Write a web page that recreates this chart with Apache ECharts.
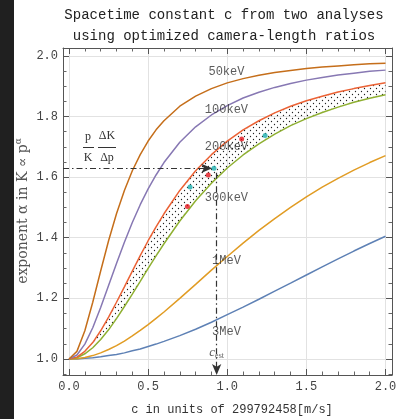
<!DOCTYPE html>
<html><head><meta charset="utf-8">
<script src="https://cdn.jsdelivr.net/npm/echarts@6/dist/echarts.min.js"></script>
<style>html,body{margin:0;padding:0;background:#fff}#c{width:404px;height:419px}</style>
</head><body><div id="c"></div><script>
// sampled c values (units of 299792458 m/s)
const xs = [0,0.05,0.1,0.15,0.2,0.25,0.3,0.35,0.4,0.45,0.5,0.55,0.6,0.7,0.8,0.9,1.0,1.1,1.2,1.3,1.4,1.5,1.6,1.7,1.8,1.9,2.0];
// exponent alpha
const a50   = [1.000,1.025,1.093,1.187,1.290,1.390,1.479,1.556,1.621,1.674,1.719,1.756,1.786,1.834,1.867,1.892,1.911,1.925,1.936,1.945,1.952,1.958,1.963,1.967,1.971,1.974,1.976];
const a100  = [1.000,1.013,1.049,1.103,1.170,1.242,1.315,1.385,1.450,1.509,1.561,1.607,1.648,1.715,1.766,1.805,1.836,1.861,1.880,1.896,1.909,1.920,1.929,1.937,1.943,1.949,1.953];
const a200  = [1.000,1.006,1.025,1.054,1.093,1.138,1.187,1.238,1.290,1.341,1.390,1.436,1.479,1.556,1.621,1.674,1.719,1.756,1.786,1.812,1.834,1.852,1.867,1.881,1.892,1.902,1.911];
const a300  = [1.000,1.004,1.017,1.037,1.064,1.096,1.133,1.173,1.214,1.256,1.299,1.340,1.380,1.455,1.522,1.580,1.630,1.673,1.710,1.742,1.770,1.793,1.813,1.831,1.847,1.860,1.872];
const a1000 = [1.000,1.001,1.005,1.011,1.020,1.031,1.044,1.059,1.076,1.094,1.113,1.134,1.155,1.200,1.246,1.293,1.338,1.382,1.424,1.463,1.500,1.535,1.567,1.596,1.623,1.648,1.671];
const a3000 = [1.000,1.000,1.002,1.004,1.007,1.011,1.015,1.020,1.027,1.033,1.041,1.049,1.058,1.077,1.098,1.121,1.146,1.171,1.197,1.224,1.250,1.277,1.304,1.330,1.356,1.381,1.405];
const curveNames = ['50keV','100keV','200keV','300keV','1MeV','3MeV'];
const curveLabelPos = [[0.995,1.948],[0.995,1.822],[0.995,1.701],[0.995,1.531],[0.995,1.324],[0.995,1.090]];
const redPts  = [[1.091,1.726],[0.880,1.607],[0.748,1.503]];
const tealPts = [[1.239,1.737],[0.916,1.629],[0.765,1.567]];
const cEst = 0.933, alphaEst = 1.629, arrowTipX = 0.905;
const xMin = -0.038, xMax = 2.041, yMin = 0.947, yMax = 2.026;

const colors = {a3000:'#5E81B5', a1000:'#E19C24', a300:'#8FB032', a200:'#EB6235', a100:'#8778B3', a50:'#C56E1A'};
const mono = 'Liberation Mono';
const serif = 'Liberation Serif';

const pc = document.createElement('canvas'); pc.width = 6; pc.height = 6;
const g = pc.getContext('2d'); g.fillStyle = '#222';
g.beginPath(); g.arc(1.5,1.5,0.65,0,Math.PI*2); g.fill();
g.beginPath(); g.arc(4.5,4.5,0.65,0,Math.PI*2); g.fill();

function pts(a){ return xs.map((x,i)=>[x,a[i]]); }
function lineSeries(a, col){
  return {type:'line', data:pts(a), showSymbol:false, smooth:false,
    lineStyle:{color:col, width:1.5}, silent:true, z:3};
}
function mkAxis(pos, min, max, withLabels, minorSplit, isX){
  return {
    type:'value', position:pos, min:min, max:max,
    axisLine:{show:true, onZero:false, lineStyle:{color:'#555', width:1}},
    axisTick:{show:true, inside:true, length:6, lineStyle:{color:'#555', width:1}},
    minorTick:{show:true, splitNumber:minorSplit, length:3.5, lineStyle:{color:'#666', width:1}},
    axisLabel:withLabels ? {show:true, margin: isX ? 6 : 5, color:'#444', fontFamily:mono, fontSize:12,
      showMinLabel:false, showMaxLabel:false, formatter:v=>v.toFixed(1)} : {show:false},
    splitLine:{show:withLabels, lineStyle:{color:'#e2e2e2'}}
  };
}
const chart = echarts.init(document.getElementById('c'), null, {renderer:'canvas'});
chart.setOption({
  animation:false,
  backgroundColor:'#fff',
  grid:{left:63, right:12, top:48, bottom:44, containLabel:false},
  xAxis:[ mkAxis('bottom',xMin,xMax,true,5,true), mkAxis('top',xMin,xMax,false,5,true) ],
  yAxis:[ mkAxis('left',yMin,yMax,true,4,false), mkAxis('right',yMin,yMax,false,4,false) ],
  graphic:[
    {type:'rect', shape:{x:0,y:0,width:14,height:419}, style:{fill:'#202020'}, z:100},
    {type:'text', x:224, y:5, style:{text:'Spacetime constant c from two analyses\nusing optimized camera-length ratios',
      align:'center', fontFamily:mono, fontSize:14, lineHeight:21, fill:'#222'}},
    {type:'text', x:232, y:410, style:{text:'c in units of 299792458[m/s]', align:'center', verticalAlign:'middle',
      fontFamily:mono, fontSize:12, fill:'#333'}},
    {type:'text', x:23, y:211, rotation:Math.PI/2, style:{text:'{a|exponent α in K ∝ p}{s|α}', align:'center', verticalAlign:'middle',
      rich:{a:{fontFamily:'DejaVu Serif', fontSize:14, fill:'#555'}, s:{fontFamily:'DejaVu Serif', fontSize:9, fill:'#555', padding:[0,0,9,0]}}}},
    {type:'text', x:88, y:137, style:{text:'p', align:'center', verticalAlign:'middle', fontFamily:serif, fontSize:12, fill:'#333'}},
    {type:'text', x:107, y:136, style:{text:'ΔK', align:'center', verticalAlign:'middle', fontFamily:serif, fontSize:12, fill:'#333'}},
    {type:'line', shape:{x1:83,y1:147.5,x2:94,y2:147.5}, style:{stroke:'#333', lineWidth:1}},
    {type:'line', shape:{x1:98,y1:147.5,x2:116,y2:147.5}, style:{stroke:'#333', lineWidth:1}},
    {type:'text', x:88, y:158, style:{text:'K', align:'center', verticalAlign:'middle', fontFamily:serif, fontSize:12, fill:'#333'}},
    {type:'text', x:107, y:158, style:{text:'Δp', align:'center', verticalAlign:'middle', fontFamily:serif, fontSize:12, fill:'#333'}}
  ],
  series:[
    {type:'custom', data:[[0,1]], z:2, silent:true, clip:true,
      renderItem:function(params, api){
        const p = [];
        for (let i=0;i<xs.length;i++) p.push(api.coord([xs[i], a200[i]]));
        for (let i=xs.length-1;i>=0;i--) p.push(api.coord([xs[i], a300[i]]));
        return {type:'polygon', shape:{points:p}, style:{fill:{image:pc, repeat:'repeat'}, stroke:null}};
      }},
    lineSeries(a3000, colors.a3000),
    lineSeries(a1000, colors.a1000),
    lineSeries(a300, colors.a300),
    lineSeries(a200, colors.a200),
    lineSeries(a100, colors.a100),
    lineSeries(a50, colors.a50),
    {type:'scatter', data:curveNames.map((n,i)=>({name:n, value:curveLabelPos[i]})), symbolSize:0, silent:true, z:6,
      label:{show:true, position:'inside', formatter:'{b}', fontFamily:mono, fontSize:12, color:'#333'}},
    {type:'scatter', data:[[cEst,1.020]], symbolSize:0, silent:true, z:6,
      label:{show:true, position:'inside', formatter:'{c|c}{s|est}',
        rich:{c:{fontFamily:serif, fontStyle:'italic', fontSize:13, color:'#333'}, s:{fontFamily:serif, fontSize:8, color:'#333', padding:[6,0,0,0]}}}},
    {type:'scatter', data:redPts, symbolSize:5, itemStyle:{color:'#e3141c'}, silent:true, z:7},
    {type:'scatter', data:tealPts, symbolSize:5, itemStyle:{color:'#1aaeae'}, silent:true, z:7,
      markLine:{silent:true, animation:false, symbol:['none','arrow'], symbolSize:[7,11], label:{show:false},
        lineStyle:{color:'#333', width:1.2, type:[6,3,1.5,3]},
        data:[
          [{coord:[xMin, alphaEst]},{coord:[arrowTipX, alphaEst]}],
          [{coord:[cEst, 1.614]},{coord:[cEst, yMin]}]
        ]}}
  ]
});
</script></body></html>
